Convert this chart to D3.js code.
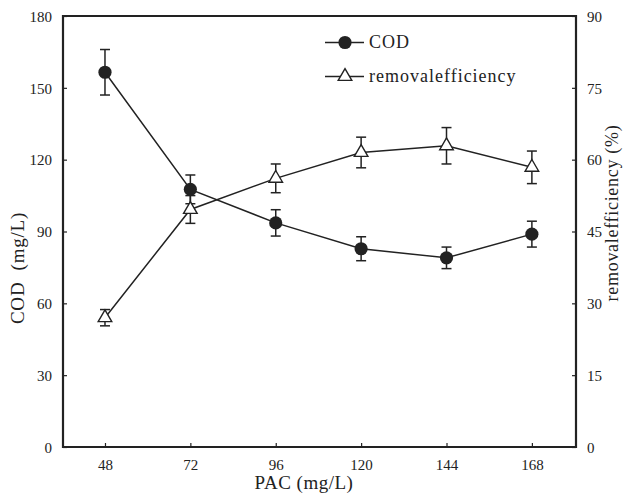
<!DOCTYPE html>
<html><head><meta charset="utf-8">
<script src="https://cdn.jsdelivr.net/npm/d3@7"></script>
<style>body{margin:0;background:#fff}svg{display:block}text{font-family:"Liberation Serif","Times New Roman",Times,serif;fill:#222}</style>
</head><body>
<svg id="c" width="628" height="493"></svg>
<script>
const pac = [48, 72, 96, 120, 144, 168];
const cod = [156.5, 107.6, 93.6, 82.8, 79.0, 88.9];
const codErr = [9.5, 6.0, 5.5, 5.0, 4.5, 5.4];
const removal = [27.0, 49.6, 56.1, 61.5, 62.9, 58.4];
const removalErr = [1.7, 2.9, 3.0, 3.2, 3.8, 3.4];
const xTicks = [48, 72, 96, 120, 144, 168];
const yLeftTicks = [0, 30, 60, 90, 120, 150, 180];
const yRightTicks = [0, 15, 30, 45, 60, 75, 90];

const svg = d3.select("#c");
const L = 63, R = 576, T = 16, B = 447;
const x = d3.scaleLinear().domain([36.2, 180.4]).range([L, R]);
const yL = d3.scaleLinear().domain([0, 180]).range([B, T]);
const yR = d3.scaleLinear().domain([0, 90]).range([B, T]);
const ink = "#222";

// axes
const ax = d3.axisBottom(x).tickValues(xTicks).tickSize(-4).tickPadding(12);
const gx = svg.append("g").attr("transform", `translate(0,${B})`).call(ax);
const al = d3.axisLeft(yL).tickValues(yLeftTicks).tickSize(-4).tickPadding(11);
const gl = svg.append("g").attr("transform", `translate(${L},0)`).call(al);
const ar = d3.axisRight(yR).tickValues(yRightTicks).tickSize(-4).tickPadding(11);
const gr = svg.append("g").attr("transform", `translate(${R},0)`).call(ar);
[gx, gl, gr].forEach(g => {
  g.attr("font-family", null);
  g.select(".domain").remove();
  g.selectAll(".tick line").attr("stroke", ink).attr("stroke-width", 1.2);
  g.selectAll(".tick text").attr("font-size", 15).attr("fill", ink);
});
gl.selectAll(".tick text").attr("dy", "0.35em");
gr.selectAll(".tick text").attr("dy", "0.35em");
// frame
svg.append("path").attr("d", `M${L},${T}H${R}V${B}H${L}Z`).attr("fill", "none").attr("stroke", ink).attr("stroke-width", 2.2);

// titles
svg.append("text").attr("x", 304).attr("y", 489).attr("text-anchor", "middle").attr("font-size", 19).attr("letter-spacing", 0.5).text("PAC (mg/L)");
svg.append("text").attr("transform", "translate(24,268) rotate(-90)").attr("text-anchor", "middle").attr("font-size", 19).attr("letter-spacing", 0.8).attr("xml:space", "preserve").style("white-space", "pre").text("COD  (mg/L)");
svg.append("text").attr("transform", "translate(618,213) rotate(-90)").attr("text-anchor", "middle").attr("font-size", 18).attr("letter-spacing", 0.7).text("removalefficiency (%)");

// lines
const lineC = d3.line().x((d, i) => x(pac[i])).y(d => yL(d));
const lineR = d3.line().x((d, i) => x(pac[i])).y(d => yR(d));
svg.append("path").attr("d", lineC(cod)).attr("fill", "none").attr("stroke", ink).attr("stroke-width", 1.5);
svg.append("path").attr("d", lineR(removal)).attr("fill", "none").attr("stroke", ink).attr("stroke-width", 1.5);

function errBars(vals, errs, y) {
  const g = svg.append("g").attr("stroke", ink).attr("stroke-width", 1.5);
  vals.forEach((v, i) => {
    const cx = x(pac[i]), y1 = y(v + errs[i]), y2 = y(v - errs[i]);
    g.append("line").attr("x1", cx).attr("x2", cx).attr("y1", y1).attr("y2", y2);
    g.append("line").attr("x1", cx - 5).attr("x2", cx + 5).attr("y1", y1).attr("y2", y1);
    g.append("line").attr("x1", cx - 5).attr("x2", cx + 5).attr("y1", y2).attr("y2", y2);
  });
}
errBars(cod, codErr, yL);
errBars(removal, removalErr, yR);

const tri = d3.symbol().type(d3.symbolTriangle).size(80);
function triangle(cx, cy) {
  svg.append("path").attr("d", tri()).attr("transform", `translate(${cx},${cy})`).attr("fill", "#fff").attr("stroke", ink).attr("stroke-width", 1.4);
}
function circle(cx, cy) {
  svg.append("circle").attr("cx", cx).attr("cy", cy).attr("r", 6.6).attr("fill", ink);
}
removal.forEach((v, i) => triangle(x(pac[i]), yR(v)));
cod.forEach((v, i) => circle(x(pac[i]), yL(v)));

// legend
const legend = [{label: "COD", mark: circle, y: 42.5}, {label: "removalefficiency", mark: triangle, y: 76.5}];
legend.forEach(l => {
  svg.append("line").attr("x1", 325).attr("x2", 364).attr("y1", l.y).attr("y2", l.y).attr("stroke", ink).attr("stroke-width", 1.5);
  l.mark(345, l.y);
  svg.append("text").attr("x", 369).attr("y", l.y).attr("dy", "0.33em").attr("font-size", 18).attr("letter-spacing", 1).text(l.label);
});
</script>
</body></html>
